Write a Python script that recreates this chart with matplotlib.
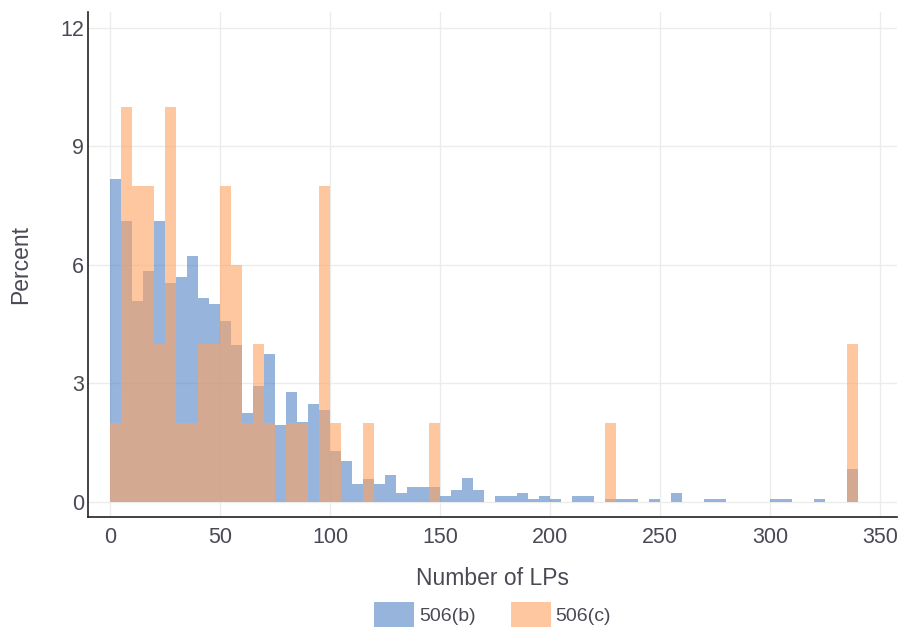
import numpy as np
import matplotlib
matplotlib.use("Agg")
import matplotlib.pyplot as plt

# histogram bins, width 5, left edges 0..335
bin_width = 5
bin_left = np.arange(0, 340, bin_width)

# percent per bin, 506(b)
pct_b = [8.16, 7.12, 5.09, 5.85, 7.12, 5.55, 5.69, 6.21, 5.17, 5.02,
         4.57, 3.98, 2.24, 2.92, 3.75, 1.94, 2.77, 2.01, 2.47, 2.32,
         1.28, 1.04, 0.45, 0.59, 0.45, 0.67, 0.22, 0.37, 0.37, 0.37,
         0.14, 0.30, 0.60, 0.30, 0.00, 0.14, 0.14, 0.22, 0.08, 0.14,
         0.08, 0.00, 0.14, 0.14, 0.00, 0.08, 0.08, 0.08, 0.00, 0.08,
         0.00, 0.22, 0.00, 0.00, 0.08, 0.08, 0.00, 0.00, 0.00, 0.00,
         0.08, 0.08, 0.00, 0.00, 0.08, 0.00, 0.00, 0.82]

# percent per bin, 506(c)
pct_c = [2, 10, 8, 8, 4, 10, 2, 2, 4, 4,
         8, 6, 2, 4, 2, 0, 2, 2, 0, 8,
         2, 0, 0, 2, 0, 0, 0, 0, 0, 2,
         0, 0, 0, 0, 0, 0, 0, 0, 0, 0,
         0, 0, 0, 0, 0, 2, 0, 0, 0, 0,
         0, 0, 0, 0, 0, 0, 0, 0, 0, 0,
         0, 0, 0, 0, 0, 0, 0, 4]

labels = ["506(b)", "506(c)"]
x_ticks = [0, 50, 100, 150, 200, 250, 300, 350]
y_ticks = [0, 3, 6, 9, 12]

plt.rcParams['font.family'] = ['Liberation Sans', 'DejaVu Sans']
txt_col = '#4a4a55'

fig = plt.figure(figsize=(9.02, 6.28), dpi=100)
ax = fig.add_axes([0.0976, 0.177, 0.897, 0.804])

ax.bar(bin_left, pct_b, width=bin_width, align='edge', color='#5082c5',
       alpha=0.6, linewidth=0, label=labels[0], zorder=2)
ax.bar(bin_left, pct_c, width=bin_width, align='edge', color='#ffa361',
       alpha=0.6, linewidth=0, label=labels[1], zorder=3)

ax.set_xlim(-10, 357.7)
ax.set_ylim(-0.38, 12.4)
ax.set_xticks(x_ticks)
ax.set_yticks(y_ticks)
ax.grid(True, color='#ececec', linewidth=1, zorder=0)
ax.set_axisbelow(True)
ax.tick_params(length=0, labelsize=15.5, colors=txt_col)
ax.tick_params(axis='x', pad=7)
ax.tick_params(axis='y', pad=3)

for s in ['top', 'right']:
    ax.spines[s].set_visible(False)
for s in ['left', 'bottom']:
    ax.spines[s].set_color('#222222')
    ax.spines[s].set_linewidth(1.2)

ax.set_xlabel("Number of LPs", fontsize=16.5, color=txt_col, labelpad=14)
ax.set_ylabel("Percent", fontsize=16.5, color=txt_col, labelpad=20)

fig.legend(loc='center', bbox_to_anchor=(0.546, 0.021), ncol=2,
           frameon=False, fontsize=14, handlelength=2.06, handleheight=1.6,
           columnspacing=1.8, handletextpad=0.26, labelcolor=txt_col,
           borderpad=0, borderaxespad=0)

fig.savefig("out.png", dpi=100)
